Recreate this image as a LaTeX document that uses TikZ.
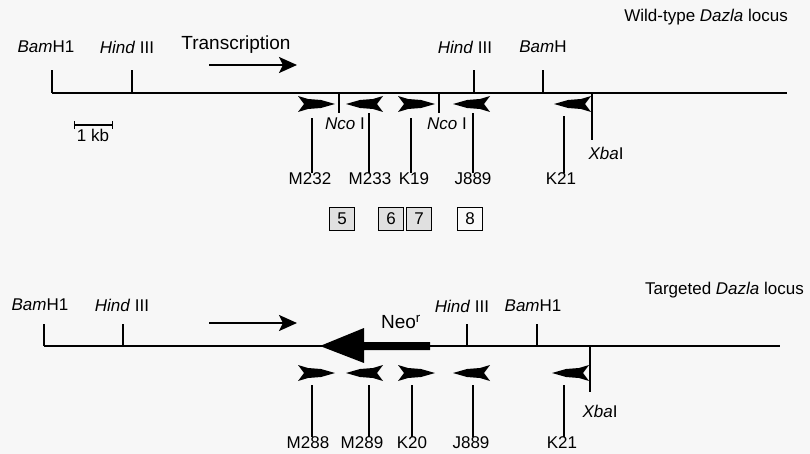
\documentclass[tikz,border=0pt]{standalone}
\usepackage{fontspec}
\setmainfont{Liberation Sans}
\usetikzlibrary{arrows.meta}

% primer heads: back end (x,y) pointing right, tip (x,y) pointing left
\newcommand{\fwdprimer}[2]{\fill (#1,#2) ++(0,-8) -- ++(10,3) -- ++(13,1) -- ++(14,4) -- ++(-14,4) -- ++(-13,1) -- ++(-10,3) -- ++(6,-8) -- cycle;}
\newcommand{\revprimer}[2]{\fill (#1,#2) -- ++(14,-4) -- ++(13,-1) -- ++(10,-3) -- ++(-6,8) -- ++(6,8) -- ++(-10,-3) -- ++(-13,-1) -- cycle;}

\begin{document}
\begin{tikzpicture}[x=1pt,y=-1pt,
    every node/.style={font=\fontsize{17}{20}\selectfont, inner sep=0pt},
    numbox/.style={draw, line width=1pt, fill=black!12, minimum width=25pt, minimum height=23pt}]

    \useasboundingbox (0,0) rectangle (810,454);
    \fill[black!3] (0,0) rectangle (810,454);

    %% Wild-type locus
    \begin{scope}
        %%%%%%%%%%%%%%%%%%%%%%%%%%
        % Draw locus
        %%%%%%%%%%%%%%%%%%%%%%%%%%
        \coordinate (wtbamA) at (52,93);
        \coordinate (wthindA) at (132,93);
        \coordinate (wthindB) at (474,93);
        \coordinate (wtbamB) at (543,93);
        \coordinate (wtncoA) at (339,93);
        \coordinate (wtncoB) at (439,93);
        \coordinate (wtxba) at (592,93);
        \coordinate (wtend) at (787,93);
        \draw [line width=1.4pt] (wtbamA) -- (wtend);

        \draw [line width=1.3pt] (wtbamA) -- ++(0,-23);
        \draw [line width=1.3pt] (wthindA) -- ++(0,-23);
        \draw [line width=1.3pt] (wthindB) -- ++(0,-23);
        \draw [line width=1.3pt] (wtbamB) -- ++(0,-23);
        \draw [line width=1.3pt] (wtncoA) -- ++(0,20);
        \draw [line width=1.3pt] (wtncoB) -- ++(0,20);
        \draw [line width=1.3pt] (wtxba) -- ++(0,47);

        \node (wtbamAlbl) at (46,47) {\textit{Bam}H1};
        \node (wthindAlbl) at (127,47) {\textit{Hind} III};
        \node (wthindBlbl) at (465,47) {\textit{Hind} III};
        \node (wtbamBlbl) at (543,47) {\textit{Bam}H};
        \node (wtncoAlbl) at (345,124) {\textit{Nco} I};
        \node (wtncoBlbl) at (447,124) {\textit{Nco} I};
        \node (wtxbalbl) at (606,153) {\textit{Xba}I};
        \node [anchor=east] (wttitle) at (788,17) {Wild-type \textit{Dazla} locus};

        % transcription
        \node (trans) at (236,45) {\fontsize{19}{22}\selectfont Transcription};
        \draw [line width=2.4pt, -{Stealth[length=18pt, width=16pt, inset=4pt]}] (209,65) -- (297,65);

        % scale bar
        \node (kb) at (93,135) {1 kb};
        \draw [line width=1.3pt, |-|] (74,125) -- (113,125);

        %%%%%%%%%%%%%%%%%%%%%%%%%%
        % Primers
        %%%%%%%%%%%%%%%%%%%%%%%%%%
        \fwdprimer{298}{104}
        \revprimer{346}{104}
        \fwdprimer{398}{104}
        \revprimer{453}{104}
        \revprimer{554}{104}

        \node (M232) at (310,179) {M232};
        \node (M233) at (370,179) {M233};
        \node (K19) at (414,179) {K19};
        \node (J889a) at (473,179) {J889};
        \node (K21a) at (561,179) {K21};

        \draw [line width=1.3pt] (M232.north -| 312,0) -- (312,118);
        \draw [line width=1.3pt] (M233.north -| 369,0) -- (369,113);
        \draw [line width=1.3pt] (K19.north -| 411,0) -- (411,118);
        \draw [line width=1.3pt] (J889a.north -| 473,0) -- (473,113);
        \draw [line width=1.3pt] (K21a.north -| 564,0) -- (564,116);

        % exons
        \node [numbox] (ex5) at (342,219) {5};
        \node [numbox] (ex6) at (391,219) {6};
        \node [numbox] (ex7) at (419,219) {7};
        \node [numbox, fill=black!2] (ex8) at (470,219) {8};
    \end{scope}

    %% Targeted locus
    \begin{scope}
        %%%%%%%%%%%%%%%%%%%%%%%%%%
        % Draw locus
        %%%%%%%%%%%%%%%%%%%%%%%%%%
        \coordinate (tgbamA) at (44,346);
        \coordinate (tghindA) at (123,346);
        \coordinate (tghindB) at (467,346);
        \coordinate (tgbamB) at (537,346);
        \coordinate (tgxba) at (590,346);
        \coordinate (tgend) at (780,346);
        \draw [line width=1.4pt] (tgbamA) -- (tgend);

        \draw [line width=1.3pt] (tgbamA) -- ++(0,-22);
        \draw [line width=1.3pt] (tghindA) -- ++(0,-22);
        \draw [line width=1.3pt] (tghindB) -- ++(0,-22);
        \draw [line width=1.3pt] (tgbamB) -- ++(0,-22);
        \draw [line width=1.3pt] (tgxba) -- ++(0,46);

        \node (tgbamAlbl) at (40,305) {\textit{Bam}H1};
        \node (tghindAlbl) at (122,305) {\textit{Hind} III};
        \node (tghindBlbl) at (462,306) {\textit{Hind} III};
        \node (tgbamBlbl) at (533,306) {\textit{Bam}H1};
        \node (tgxbalbl) at (600,411) {\textit{Xba}I};
        \node [anchor=east] (tgtitle) at (804,290) {Targeted \textit{Dazla} locus};

        % transcription
        \draw [line width=2.4pt, -{Stealth[length=18pt, width=16pt, inset=4pt]}] (209,323) -- (297,323);

        % neo cassette
        \fill (320,346) -- (364,328) -- (364,342) -- (430,342) -- (430,350) -- (364,350) -- (364,363) -- cycle;
        \node (neo) at (401,322) {\fontsize{19}{22}\selectfont Neo\textsuperscript{r}};

        %%%%%%%%%%%%%%%%%%%%%%%%%%
        % Primers
        %%%%%%%%%%%%%%%%%%%%%%%%%%
        \fwdprimer{298}{373}
        \revprimer{346}{373}
        \fwdprimer{398}{373}
        \revprimer{453}{373}
        \revprimer{552}{373}

        \node (M288) at (308,443) {M288};
        \node (M289) at (362,443) {M289};
        \node (K20) at (412,443) {K20};
        \node (J889b) at (471,443) {J889};
        \node (K21b) at (562,443) {K21};

        \draw [line width=1.3pt] (M288.north -| 312,0) -- (312,385);
        \draw [line width=1.3pt] (M289.north -| 369,0) -- (369,385);
        \draw [line width=1.3pt] (K20.north -| 412,0) -- (412,385);
        \draw [line width=1.3pt] (J889b.north -| 473,0) -- (473,385);
        \draw [line width=1.3pt] (K21b.north -| 564,0) -- (564,385);
    \end{scope}
\end{tikzpicture}
\end{document}
